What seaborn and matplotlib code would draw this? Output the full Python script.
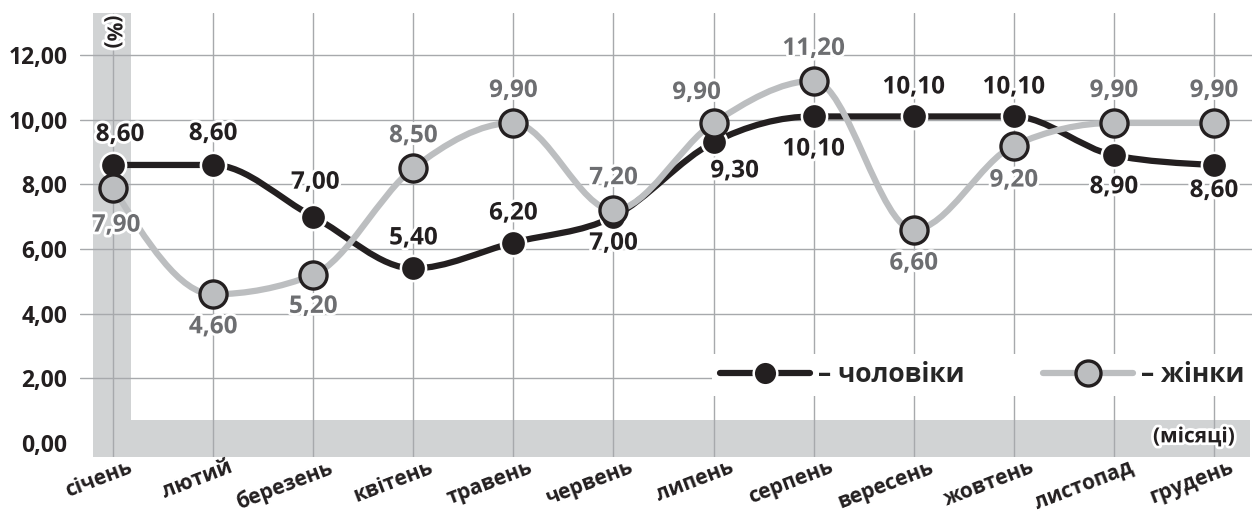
import matplotlib
matplotlib.use('Agg')
import matplotlib.pyplot as plt
import matplotlib.patheffects as pe
from matplotlib.path import Path
from matplotlib.patches import PathPatch
from matplotlib.lines import Line2D
from matplotlib.ticker import FuncFormatter
import matplotlib.transforms as mtransforms
import numpy as np
import pandas as pd
import seaborn as sns

# дані
months = ['січень', 'лютий', 'березень', 'квітень', 'травень', 'червень',
          'липень', 'серпень', 'вересень', 'жовтень', 'листопад', 'грудень']
men = [8.6, 8.6, 7.0, 5.4, 6.2, 7.0, 9.3, 10.1, 10.1, 10.1, 8.9, 8.6]
women = [7.9, 4.6, 5.2, 8.5, 9.9, 7.2, 9.9, 11.2, 6.6, 9.2, 9.9, 9.9]
y_ticks = [0, 2, 4, 6, 8, 10, 12]

# зміщення підписів (пікселі)
men_off = [(7, 30), (0, 31), (2, 34), (0, 30), (0, 29), (0, -27),
           (21, -29), (0, -33), (0, 29), (0, 29), (0, -32), (0, -26)]
women_off = [(3, -38), (0, -33), (0, -32), (0, 32), (0, 32), (0, 32),
             (-17, 30), (0, 32), (0, -34), (0, -35), (0, 32), (0, 32)]

BLACK = '#231f20'
GRAY = '#bcbec0'
BAND = '#d1d3d4'

sns.set_theme(style='white')
plt.rcParams['font.family'] = ['Open Sans', 'DejaVu Sans']


def monotone_path(xs, ys):
    # монотонна кубічна крива (як curveMonotoneX)
    n = len(xs)
    sec = [(ys[i + 1] - ys[i]) / (xs[i + 1] - xs[i]) for i in range(n - 1)]
    m = [0.0] * n
    for i in range(1, n - 1):
        s0, s1 = sec[i - 1], sec[i]
        h0, h1 = xs[i] - xs[i - 1], xs[i + 1] - xs[i]
        p = (s0 * h1 + s1 * h0) / (h0 + h1)
        sg = (np.sign(s0) if s0 != 0 else 1) + (np.sign(s1) if s1 != 0 else 1)
        m[i] = sg * min(abs(s0), abs(s1), 0.5 * abs(p))
    m[0] = (3 * sec[0] - m[1]) / 2
    m[-1] = (3 * sec[-1] - m[-2]) / 2
    verts = [(xs[0], ys[0])]
    codes = [Path.MOVETO]
    for i in range(n - 1):
        h = xs[i + 1] - xs[i]
        verts += [(xs[i] + h / 3, ys[i] + m[i] * h / 3),
                  (xs[i + 1] - h / 3, ys[i + 1] - m[i + 1] * h / 3),
                  (xs[i + 1], ys[i + 1])]
        codes += [Path.CURVE4] * 3
    return Path(verts, codes)


x = list(range(len(months)))
df = pd.DataFrame({'x': x, 'men': men, 'women': women})

fig = plt.figure(figsize=(12.52, 5.15), dpi=100)
ax = fig.add_axes([80 / 1252, 58 / 515, 1172 / 1252, 444 / 515])
ax.set_xlim(-0.33, 11.38)
ax.set_ylim(-0.433, 13.3)

# сірі смуги осей
ax.axvspan(-0.2, 0.18, color=BAND, lw=0, zorder=0.1)
ax.axhspan(-0.433, 0.71, xmin=13 / 1172, xmax=1170 / 1172, color=BAND, lw=0, zorder=0.1)

ax.set_xticks(x)
ax.set_xticklabels(months)
ax.set_yticks(y_ticks)
ax.yaxis.set_major_formatter(FuncFormatter(lambda v, p: f'{v:.2f}'.replace('.', ',')))
ax.grid(True, color='#a7a9ac', lw=1, zorder=0.5)
ax.get_ygridlines()[0].set_visible(False)
for s in ax.spines.values():
    s.set_visible(False)
ax.tick_params(length=0)
ax.tick_params(axis='y', pad=9, labelsize=16.5, labelcolor=BLACK)
ax.tick_params(axis='x', pad=0, labelsize=15, labelcolor=BLACK)
for t in ax.get_yticklabels():
    t.set_fontweight('bold')
off = mtransforms.ScaledTranslation(15 / 100, 0, fig.dpi_scale_trans)
for t in ax.get_xticklabels():
    t.set_fontweight('bold')
    t.set_rotation(21)
    t.set_ha('right')
    t.set_va('top')
    t.set_rotation_mode('anchor')
    t.set_transform(t.get_transform() + off)

# криві
ax.add_patch(PathPatch(monotone_path(x, men), fill=False, lw=4.5, color=BLACK,
                       capstyle='round', zorder=2))
ax.add_patch(PathPatch(monotone_path(x, women), fill=False, lw=4.5, color=GRAY,
                       capstyle='round', zorder=4))

sns.scatterplot(data=df, x='x', y='men', ax=ax, s=330, color=BLACK,
                edgecolor='white', linewidth=1.8, zorder=3, legend=False)
sns.scatterplot(data=df, x='x', y='women', ax=ax, s=380, color=GRAY,
                edgecolor=BLACK, linewidth=2.4, zorder=5, legend=False)
ax.set_xlabel('')
ax.set_ylabel('')

halo = [pe.withStroke(linewidth=4, foreground='white')]
for i in x:
    ax.annotate(f'{men[i]:.2f}'.replace('.', ','), (i, men[i]),
                xytext=men_off[i], textcoords='offset pixels', ha='center', va='center',
                fontsize=17.5, fontweight='bold', color=BLACK, path_effects=halo, zorder=6)
    ax.annotate(f'{women[i]:.2f}'.replace('.', ','), (i, women[i]),
                xytext=women_off[i], textcoords='offset pixels', ha='center', va='center',
                fontsize=17.5, fontweight='bold', color='#6d6e71', path_effects=halo, zorder=6)

ax.text(0, 12.71, '(%)', rotation=-90, ha='center', va='center', fontsize=15,
        fontweight='bold', color=BLACK, path_effects=halo, zorder=6)
ax.text(11.21, 0.19, '(місяці)', ha='right', va='center', fontsize=15,
        fontweight='bold', color=BLACK, path_effects=halo, zorder=6)

# легенда
h_men = Line2D([], [], color=BLACK, lw=4.5, marker='o', ms=17, mfc=BLACK, mec='white', mew=1.8)
h_women = Line2D([], [], color=GRAY, lw=4.5, marker='o', ms=18, mfc=GRAY, mec=BLACK, mew=2.4)
leg = ax.legend([h_men, h_women], ['– чоловіки', '– жінки'], ncol=2,
                loc='center left', bbox_to_anchor=(712 / 1252, 1 - 375 / 515),
                bbox_transform=fig.transFigure, frameon=True, fancybox=False,
                handlelength=3.4, handletextpad=0.3, columnspacing=3.0,
                borderpad=0.3, borderaxespad=0,
                prop={'size': 19, 'weight': 'bold'})
leg.get_frame().set_facecolor('white')
leg.get_frame().set_edgecolor('none')
leg.get_frame().set_alpha(1)

fig.savefig('out.png', dpi=100)
